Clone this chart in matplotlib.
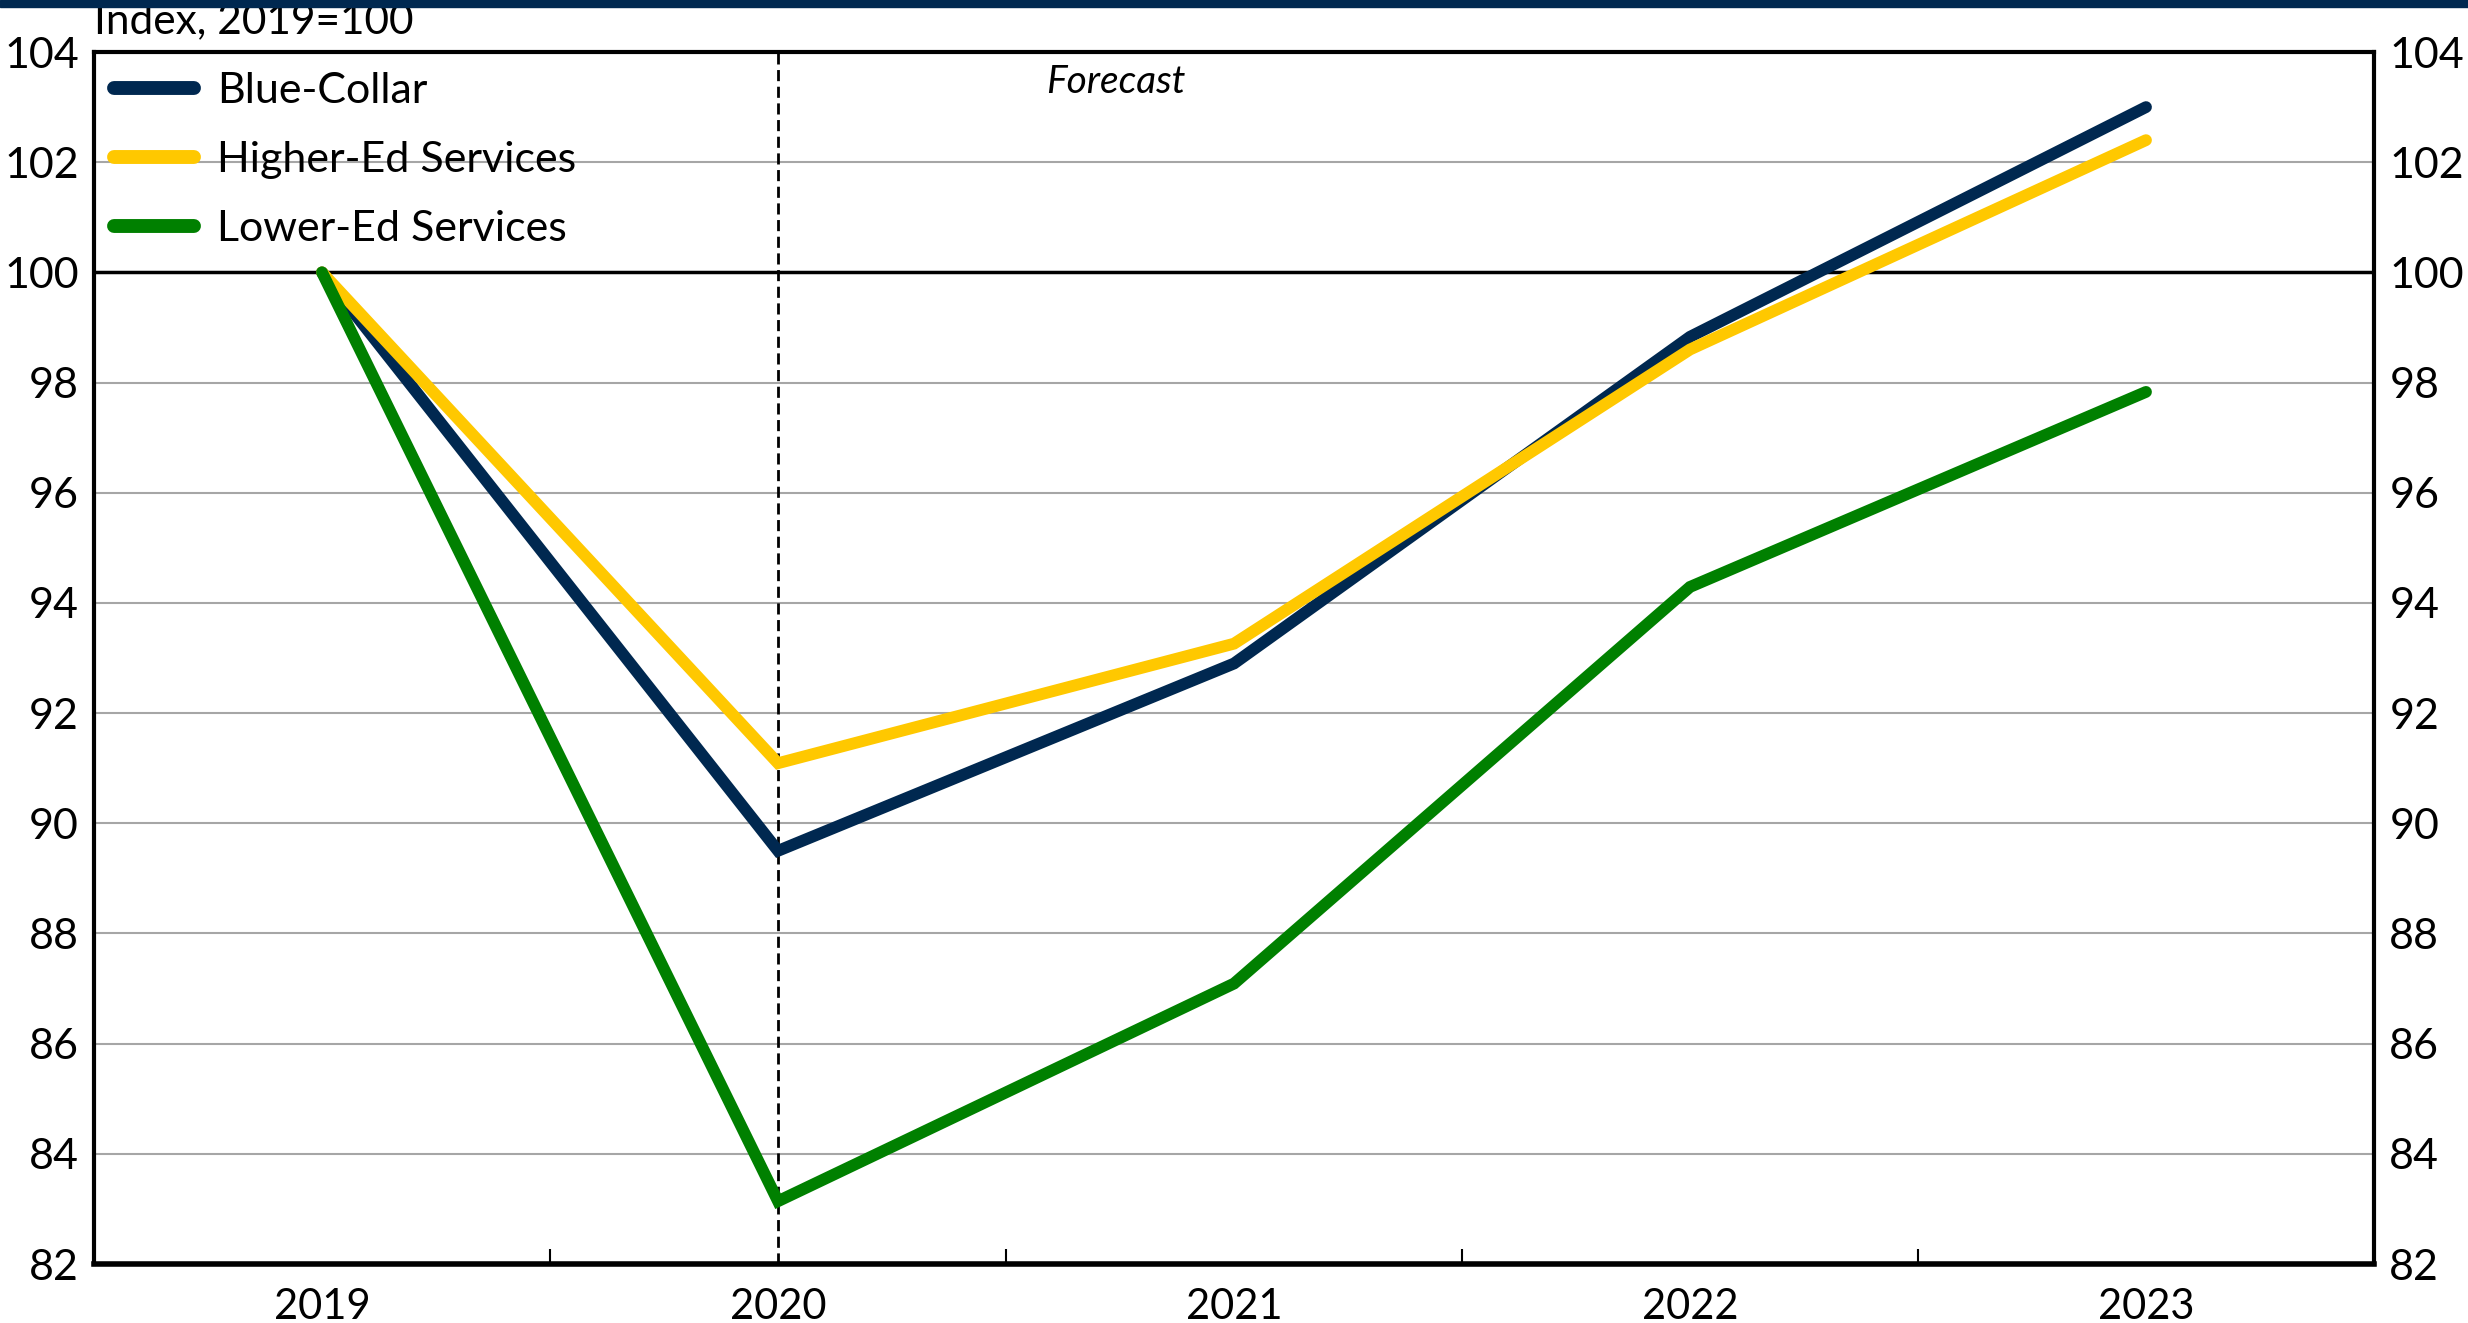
import matplotlib
matplotlib.use('Agg')
import matplotlib.pyplot as plt
from matplotlib.patches import Rectangle
from matplotlib.ticker import MultipleLocator, FixedLocator

plt.rcParams['font.family'] = ['Lato', 'DejaVu Sans']

# data
years = [2019, 2020, 2021, 2022, 2023]
blue_collar = [100.0, 89.5, 92.9, 98.83, 103.0]
higher_ed = [100.0, 91.09, 93.26, 98.6, 102.4]
lower_ed = [100.0, 83.14, 87.09, 94.29, 97.83]
series_names = ['Blue-Collar', 'Higher-Ed Services', 'Lower-Ed Services']
series_colors = ['#002850', '#FFC800', '#008000']
forecast_start = 2020

fig = plt.figure(figsize=(24.68, 13.23), dpi=100)
ax = fig.add_axes([94 / 2468, 1 - 1264 / 1323, (2374 - 94) / 2468, (1264 - 52) / 1323])

# top navy band
fig.patches.append(Rectangle((0, 1 - 7 / 1323), 1, 7 / 1323, transform=fig.transFigure,
                             color='#002850', zorder=10))

for vals, name, col in zip([blue_collar, higher_ed, lower_ed], series_names, series_colors):
  ax.plot(years, vals, color=col, lw=8.5, label=name, solid_capstyle='round',
          solid_joinstyle='miter', zorder=3)

ax.set_xlim(2018.5, 2023.5)
ax.set_ylim(82, 104)

ax.yaxis.set_major_locator(MultipleLocator(2))
ax.grid(axis='y', color='#A6A6A6', lw=1.5, zorder=0)
ax.axhline(100, color='black', lw=2.5, zorder=2)
ax.axvline(forecast_start, color='black', lw=2, ls=(0, (4, 2)), zorder=2)

ax.set_xticks(years)
ax.set_xticklabels([str(y) for y in years])
ax.xaxis.set_minor_locator(FixedLocator([2019.5, 2020.5, 2021.5, 2022.5]))
ax.tick_params(axis='x', which='major', length=0, pad=17, labelsize=30)
ax.tick_params(axis='x', which='minor', length=11, width=1.5, direction='in')
ax.tick_params(axis='y', which='major', length=0, labelsize=31, pad=11,
               labelleft=True, labelright=True)

for s in ['left', 'right', 'top']:
  ax.spines[s].set_linewidth(3)
ax.spines['bottom'].set_linewidth(4)

ax.text(2020.74, 103.46, 'Forecast', style='italic', fontsize=28, ha='center', va='center')
ax.text(0, 1.01, 'Index, 2019=100', transform=ax.transAxes, fontsize=30.5, ha='left', va='bottom')

leg = ax.legend(loc='upper left', frameon=False, fontsize=31, handlelength=1.86,
                handletextpad=0.53, labelspacing=0.72, borderaxespad=0, borderpad=0.46)
for h in leg.get_lines():
  h.set_linewidth(10)
  h.set_solid_capstyle('round')

fig.savefig('out.png', dpi=100)
